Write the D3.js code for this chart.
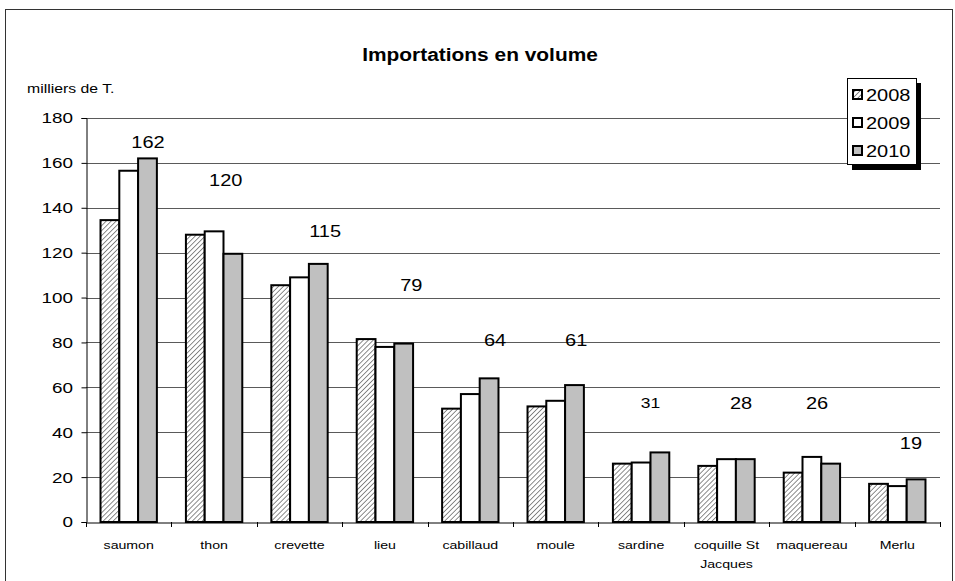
<!DOCTYPE html>
<html><head><meta charset="utf-8">
<script src="https://cdn.jsdelivr.net/npm/d3@7"></script>
<style>
body{margin:0;background:#fff;}
svg text{font-family:"Liberation Sans",Arial,sans-serif;fill:#000;}
</style></head>
<body><svg id="c" width="955" height="581"></svg>
<script>
const categories = ["saumon","thon","crevette","lieu","cabillaud","moule","sardine","coquille St Jacques","maquereau","Merlu"];
const years = ["2008","2009","2010"];
const v2008 = [134.5,128,105.5,81.5,50.5,51.5,26,25,22,17];
const v2009 = [156.5,129.5,109,78,57,54,26.5,28,29,16];
const v2010 = [162,119.5,115,79.5,64,61,31,28,26,19];
const labels2010 = ["162","120","115","79","64","61","31","28","26","19"];
const yTicks = [0,20,40,60,80,100,120,140,160,180];
// annotation anchors (data units: y value, offset within band)
const labelY = [169,152.4,129.4,105.6,80.9,80.9,52.9,52.9,52.9,34.8];
const labelDX = [0.226,0.136,0.30,0.31,0.29,0.24,0.11,0.17,0.06,0.16];

const svg = d3.select("#c");
const L=86,R=940,T=118,B=522;

function txt(parent, x, y, s, o){
  o = o||{};
  const g = parent.append("g").attr("transform",`translate(${x},${y}) scale(${o.sx||1.22},1)`);
  const t = g.append("text").attr("x",0).attr("y",0)
    .attr("text-anchor",o.anchor||"start").attr("font-size",o.size||14)
    .attr("font-weight",o.weight||"normal");
  if(o.dy) t.attr("dy",o.dy);
  t.text(s);
  return t;
}

svg.append("rect").attr("x",5.5).attr("y",9.5).attr("width",947).attr("height",620)
  .attr("fill","#fff").attr("stroke","#333").attr("stroke-width",1);

const defs = svg.append("defs");
const pat = defs.append("pattern").attr("id","hatch").attr("patternUnits","userSpaceOnUse")
  .attr("width",3.5).attr("height",3.5).attr("patternTransform","rotate(45)");
pat.append("rect").attr("width",3.5).attr("height",3.5).attr("fill","#fff");
pat.append("line").attr("x1",0).attr("y1",0).attr("x2",0).attr("y2",3.5).attr("stroke","#5c5c5c").attr("stroke-width",1.4);

const x = d3.scaleBand().domain(categories).range([L,R]).paddingInner(0).paddingOuter(0);
const y = d3.scaleLinear().domain([0,180]).range([B,T]);
const groupW = x.bandwidth()*0.66;
const xs = d3.scaleBand().domain(years).range([0,groupW]).padding(0);
const fills = {"2008":"url(#hatch)","2009":"#fff","2010":"#c0c0c0"};
const series = {"2008":v2008,"2009":v2009,"2010":v2010};

// gridlines
svg.append("g").selectAll("line").data(yTicks.filter(d=>d>0)).join("line")
  .attr("x1",L).attr("x2",R).attr("y1",d=>Math.round(y(d))+0.5).attr("y2",d=>Math.round(y(d))+0.5)
  .attr("stroke","#5a5a5a").attr("stroke-width",1);

// bars
const gBars = svg.append("g");
categories.forEach((c,i)=>{
  const x0 = x(c) + (x.bandwidth()-groupW)/2;
  years.forEach(yr=>{
    const val = series[yr][i];
    gBars.append("rect")
      .attr("x",x0+xs(yr)).attr("y",y(val))
      .attr("width",xs.bandwidth()).attr("height",B-y(val))
      .attr("fill",fills[yr]).attr("stroke","#000").attr("stroke-width",2);
  });
});

// y axis
const ya = svg.append("g").attr("transform",`translate(${L+0.5},0)`)
  .call(d3.axisLeft(y).tickValues(yTicks).tickSize(5).tickFormat(""));
ya.select(".domain").attr("stroke","#000");
ya.selectAll(".tick line").attr("stroke","#000");
yTicks.forEach(t=>{
  txt(svg, 73, y(t), String(t), {anchor:"end", size:15, sx:1.26, dy:"0.36em"});
});

// x axis
const xa = svg.append("g").attr("transform",`translate(0,${B+0.5})`)
  .call(d3.axisBottom(x).tickSize(0).tickFormat(""));
xa.select(".domain").attr("stroke","#000");
xa.selectAll(".tick").remove();
svg.append("g").selectAll("line").data(categories.concat(["__end"])).join("line")
  .attr("x1",(d,i)=>Math.round(i<categories.length?x(d):R)+0.5)
  .attr("x2",(d,i)=>Math.round(i<categories.length?x(d):R)+0.5)
  .attr("y1",B).attr("y2",B+5).attr("stroke","#000");

// category labels
categories.forEach(c=>{
  const cx = x(c)+x.bandwidth()/2;
  if(c==="coquille St Jacques"){
    txt(svg, cx, 549, "coquille St", {anchor:"middle", size:11.5, sx:1.23});
    txt(svg, cx, 568, "Jacques", {anchor:"middle", size:11.5, sx:1.23});
  } else txt(svg, cx, 549, c, {anchor:"middle", size:11.5, sx:1.23});
});

// value labels
labels2010.forEach((lab,i)=>{
  txt(svg, x(categories[i])+x.bandwidth()*(0.5+labelDX[i]), y(labelY[i]), lab,
    {anchor:"middle", size: lab==="31"?14:16, sx:1.25, dy:"0.35em"});
});

// title
txt(svg, 480, 61, "Importations en volume", {anchor:"middle", size:19, weight:"bold", sx:1.1});
txt(svg, 27, 93, "milliers de T.", {size:13.5, sx:1.17});

// legend
const lg = svg.append("g");
lg.append("rect").attr("x",852).attr("y",83).attr("width",69).attr("height",87).attr("fill","#000");
lg.append("rect").attr("x",847.5).attr("y",78.5).attr("width",69).attr("height",86).attr("fill","#fff").attr("stroke","#000");
years.forEach((yr,i)=>{
  const cy = 95 + i*28;
  lg.append("rect").attr("x",853).attr("y",cy-5).attr("width",9).attr("height",9)
    .attr("fill",fills[yr]).attr("stroke","#000").attr("stroke-width",2);
  txt(lg, 866, cy, yr, {size:16, sx:1.25, dy:"0.36em"});
});
</script></body></html>
